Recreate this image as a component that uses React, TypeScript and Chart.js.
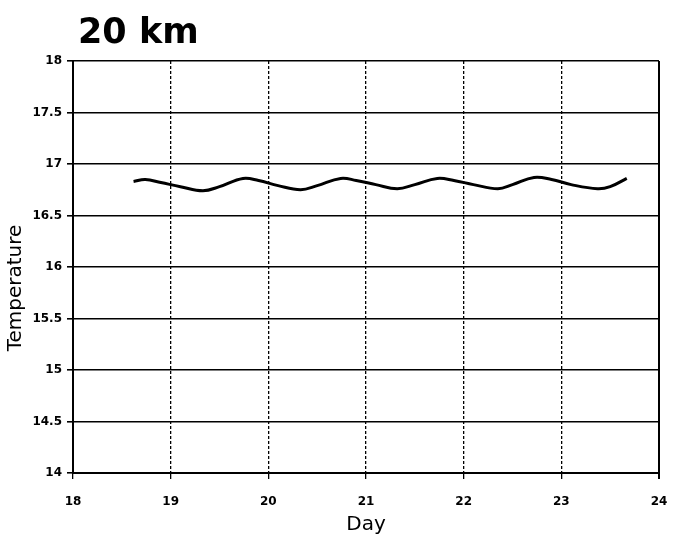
import React, { useEffect, useRef } from "react";
import { Chart, registerables } from "chart.js";

Chart.register(...registerables);

const TITLE = "20 km";
const X_LABEL = "Day";
const Y_LABEL = "Temperature";

const days = [18.62, 18.74, 18.9, 19.1, 19.33, 19.5, 19.74, 19.9, 20.1, 20.33, 20.5, 20.74, 20.9, 21.1, 21.32, 21.5, 21.73, 21.9, 22.1, 22.35, 22.5, 22.72, 22.9, 23.1, 23.37, 23.5, 23.67];
const temps = [16.83, 16.85, 16.82, 16.78, 16.74, 16.78, 16.86, 16.84, 16.79, 16.75, 16.79, 16.86, 16.84, 16.8, 16.76, 16.8, 16.86, 16.84, 16.8, 16.76, 16.8, 16.87, 16.85, 16.8, 16.76, 16.78, 16.86];

const FONT = "'DejaVu Sans', Arial, sans-serif";

export default function App() {
  const ref = useRef<HTMLCanvasElement | null>(null);

  useEffect(() => {
    if (!ref.current) return;
    const decorPlugin = {
      id: "decor",
      afterDraw(chart: any) {
        const { ctx, chartArea } = chart;
        ctx.save();
        ctx.fillStyle = "#000";
        ctx.font = `bold 35px ${FONT}`;
        ctx.textBaseline = "alphabetic";
        ctx.textAlign = "left";
        ctx.fillText(TITLE, chartArea.left + 5, 43);
        // y-axis title
        ctx.font = `20px ${FONT}`;
        ctx.translate(16, 288);
        ctx.rotate(-Math.PI / 2);
        ctx.textAlign = "center";
        ctx.textBaseline = "middle";
        ctx.fillText(Y_LABEL, 0, 0);
        ctx.restore();
        ctx.save();
        ctx.strokeStyle = "#000";
        ctx.lineWidth = 2;
        ctx.beginPath();
        ctx.moveTo(chartArea.right, chartArea.top);
        ctx.lineTo(chartArea.right, chartArea.bottom + 6);
        ctx.stroke();
        ctx.restore();
      },
    };
    const chart = new Chart(ref.current, {
      type: "line",
      data: {
        datasets: [
          {
            data: days.map((d, i) => ({ x: d, y: temps[i] })),
            borderColor: "#000",
            borderWidth: 3,
            pointRadius: 0,
            tension: 0.4,
            fill: false,
          },
        ],
      },
      options: {
        animation: false,
        responsive: true,
        maintainAspectRatio: false,
        layout: { padding: { left: 0, right: 29, top: 61, bottom: 0 } },
        plugins: { legend: { display: false }, tooltip: { enabled: false }, title: { display: false } },
        scales: {
          x: {
            type: "linear",
            min: 18,
            max: 24,
            afterFit: (s: any) => { s.height = 66; },
            ticks: { stepSize: 1, color: "#000", padding: 16, font: { family: FONT, size: 12, weight: "bold" } },
            grid: { color: "#000", lineWidth: 1.3, tickLength: 6, tickColor: "#000", tickWidth: 1.3 },
            border: { display: true, color: "#000", width: 2, dash: [3, 2] },
            title: { display: true, text: X_LABEL, color: "#000", font: { family: FONT, size: 20 }, padding: { top: 0, bottom: 2 } },
          },
          y: {
            min: 14,
            max: 18,
            afterFit: (s: any) => { s.width = 73; },
            ticks: {
              stepSize: 0.5,
              color: "#000",
              padding: 5,
              font: { family: FONT, size: 12, weight: "bold" },
              callback: (v: any) => String(Number(v)),
            },
            grid: { color: "#000", lineWidth: 1.6, tickLength: 6, tickColor: "#000" },
            border: { display: true, color: "#000", width: 2 },
            title: { display: false, text: Y_LABEL },
          },
        },
      },
      plugins: [decorPlugin],
    });
    return () => chart.destroy();
  }, []);

  return (
    <div style={{ position: "absolute", left: 0, top: 0, width: 688, height: 539, background: "#fff" }}>
      <canvas ref={ref} />
    </div>
  );
}
